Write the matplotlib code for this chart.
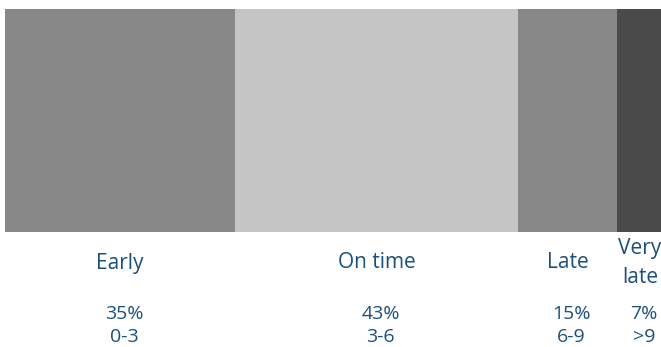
import matplotlib
matplotlib.use("Agg")
import matplotlib.pyplot as plt

categories = ["Early", "On time", "Late", "Very\nlate"]
shares = [35, 43, 15, 7]
ranges = ["0-3", "3-6", "6-9", ">9"]
colors = ["#888888", "#c5c5c5", "#888888", "#4a4a4a"]

text_color = "#1b4f7c"
plt.rcParams['font.family'] = ['Open Sans', 'DejaVu Sans']

W, H = 661, 347
fig = plt.figure(figsize=(W / 100, H / 100), dpi=100)
ax = fig.add_axes([5 / W, (H - 232) / H, (W - 5) / W, 223 / H])

left = 0
centers = []
for s, c in zip(shares, colors):
    ax.barh(0, s, left=left, height=1, color=c, edgecolor="none")
    centers.append(left + s / 2)
    left += s

ax.set_xlim(0, 99.7)
ax.set_ylim(-0.5, 0.5)
ax.axis("off")

for cx, cat, s, r in zip(centers, categories, shares, ranges):
    ax.annotate(cat, xy=(cx, H - 263), xycoords=("data", "figure pixels"),
                ha="center", va="center", fontsize=15, color=text_color,
                linespacing=1.45, annotation_clip=False)
    ax.annotate(f"{s}%", xy=(cx, H - 314), xycoords=("data", "figure pixels"),
                xytext=(4, 0), textcoords="offset pixels",
                ha="center", va="center", fontsize=14, color=text_color,
                annotation_clip=False)
    ax.annotate(r, xy=(cx, H - 337), xycoords=("data", "figure pixels"),
                xytext=(4, 0), textcoords="offset pixels",
                ha="center", va="center", fontsize=14, color=text_color,
                annotation_clip=False)

fig.savefig("out.png", dpi=100)
